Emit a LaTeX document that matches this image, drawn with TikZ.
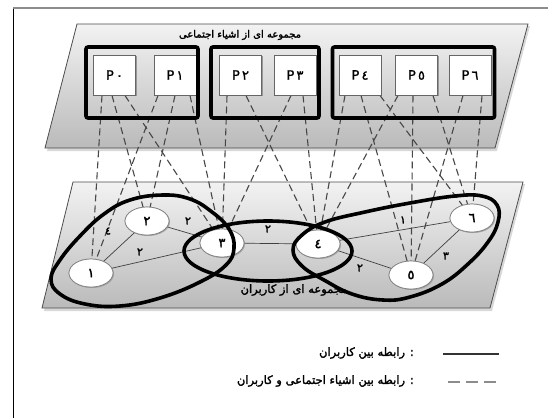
\documentclass[tikz,border=0pt]{standalone}
\usepackage{fontspec}
\usetikzlibrary{shapes.geometric,shadows}
\TeXXeTstate=1
\newfontfamily\farsi[Script=Arabic]{DejaVu Sans}
\newfontfamily\farsib[Script=Arabic,FakeBold=2]{DejaVu Sans}
\newfontfamily\latinsans[FakeBold=1]{DejaVu Sans}

\begin{document}
\begin{tikzpicture}[x=1pt,y=-1pt,
  plane/.style={draw=black!70, line width=0.8pt, top color=black!5, bottom color=black!27},
  planeshadow/.style={fill=black!30, opacity=0.5},
  objbox/.style={draw=black!60, fill=white, line width=1pt, minimum width=42pt,
    minimum height=40pt, inner sep=0pt, font=\latinsans\fontsize{13}{13}\selectfont,
    drop shadow={shadow xshift=1.2pt, shadow yshift=-1.2pt, fill=black!45, opacity=0.6}},
  groupbox/.style={draw=black, line width=3.6pt, rounded corners=2pt, inner sep=0pt},
  user/.style={ellipse, draw=black!50, fill=white, line width=0.7pt, minimum width=44pt,
    minimum height=28pt, inner sep=0pt, font=\farsib\fontsize{13}{13}\selectfont,
    drop shadow={shadow xshift=1pt, shadow yshift=-1pt, fill=black!40, opacity=0.5}},
  tie/.style={draw=black!75, line width=0.7pt},
  link/.style={draw=black!72, line width=1.1pt, dash pattern=on 7pt off 4pt},
  cluster/.style={draw=black, line width=3.6pt},
  elab/.style={font=\farsib\fontsize{11}{11}\selectfont, inner sep=0pt},
  title/.style={font=\farsib\fontsize{10}{10}\selectfont, inner sep=0pt},
  legtext/.style={font=\farsib\fontsize{11.5}{11.5}\selectfont, inner sep=0pt, anchor=east},
]
\useasboundingbox (0,0) rectangle (548,418);
\fill[white] (0,0) rectangle (548,418);

% page frame
\draw[black!45, line width=2.6pt] (13,8) -- (548,8);
\draw[black, line width=0.8pt] (13,8.5) -- (13,418);

% the two planes
\fill[planeshadow] (79,26) -- (530,26) -- (497,151) -- (47,151) -- cycle;
\path[plane] (77,24) -- (528,24) -- (495,148) -- (45,148) -- cycle;
\fill[planeshadow] (75,184) -- (525,184) -- (492,311) -- (44,311) -- cycle;
\path[plane] (73,182) -- (523,182) -- (490,308) -- (42,308) -- cycle;

\node[title] (ttop) at (240,35) {\beginR مجموعه ای از اشیاء اجتماعی\endR};
\node[title, font=\farsib\fontsize{11.5}{11.5}\selectfont] (tbot) at (294,290) {\beginR مجموعه ای از کاربران\endR};

% social objects
\node[objbox] (P0) at (114.5,75) {P\,٠};
\node[objbox] (P1) at (175,75) {P\,١};
\node[objbox] (P2) at (240.5,75) {P\,٢};
\node[objbox] (P3) at (295,75) {P\,٣};
\node[objbox] (P4) at (360,75) {P\,٤};
\node[objbox] (P5) at (416.5,75) {P\,٥};
\node[objbox] (P6) at (470,75) {P\,٦};

% users
\node[user] (n1) at (91,273) {١};
\node[user] (n2) at (147,221) {٢};
\node[user] (n3) at (222,243) {٣};
\node[user] (n4) at (318,244) {٤};
\node[user] (n5) at (411,275) {٥};
\node[user] (n6) at (472,218) {٦};

% object-user relations
\draw[link] ([xshift=-12.5pt]P0.south) -- (n1);
\draw[link] ([xshift=-2.5pt]P0.south) -- (n2);
\draw[link] ([xshift=10.5pt]P0.south) -- (n3);
\draw[link] ([xshift=-17pt]P1.south) -- (n1);
\draw[link] ([xshift=0pt]P1.south) -- (n2);
\draw[link] ([xshift=15pt]P1.south) -- (n3);
\draw[link] ([xshift=-13.5pt]P2.south) -- (n3);
\draw[link] ([xshift=5.5pt]P2.south) -- (n4);
\draw[link] ([xshift=-4pt]P3.south) -- (n3);
\draw[link] ([xshift=8pt]P3.south) -- (n4);
\draw[link] ([xshift=-15pt]P4.south) -- (n4);
\draw[link] ([xshift=1pt]P4.south) -- (n5);
\draw[link] ([xshift=20pt]P4.south) -- (n6);
\draw[link] ([xshift=-18.5pt]P5.south) -- (n4);
\draw[link] ([xshift=-3.5pt]P5.south) -- (n5);
\draw[link] ([xshift=16.5pt]P5.south) -- (n6);
\draw[link] ([xshift=-7pt]P6.south) -- (n5);
\draw[link] ([xshift=12pt]P6.south) -- (n6);

% boxes again, on top of the relation lines
\node[objbox] at (P0) {P\,٠};
\node[objbox] at (P1) {P\,١};
\node[objbox] at (P2) {P\,٢};
\node[objbox] at (P3) {P\,٣};
\node[objbox] at (P4) {P\,٤};
\node[objbox] at (P5) {P\,٥};
\node[objbox] at (P6) {P\,٦};

% groups of objects
\node[groupbox, minimum width=112pt, minimum height=71pt] (g1) at (142,82.5) {};
\node[groupbox, minimum width=108pt, minimum height=71pt] (g2) at (265,82.5) {};
\node[groupbox, minimum width=162pt, minimum height=71pt] (g3) at (413.5,82.5) {};

% user-user relations
\draw[tie] (n1) -- (n2);
\draw[tie] (n2) -- (n3);
\draw[tie] (n1) -- (n3);
\draw[tie] (n3) -- (n4);
\draw[tie] (n4) -- (n6);
\draw[tie] (n4) -- (n5);
\draw[tie] (n5) -- (n6);

\node[user] at (n1) {١};
\node[user] at (n2) {٢};
\node[user] at (n3) {٣};
\node[user] at (n4) {٤};
\node[user] at (n5) {٥};
\node[user] at (n6) {٦};

\node[elab] (w12) at (108,231) {٤};
\node[elab] (w23) at (188,221) {٢};
\node[elab] (w13) at (140,252) {٢};
\node[elab] (w34) at (268,229) {٢};
\node[elab] (w46) at (403,220) {١};
\node[elab] (w45) at (360,268) {٢};
\node[elab] (w56) at (446,256) {٣};

% communities of users
\draw[cluster] plot[smooth cycle, tension=0.7] coordinates {
  (130,200) (163,195) (190,199) (212,212) (229,229) (234,248) (226,265)
  (200,282) (160,298) (120,306) (85,304) (60,294) (51,279) (60,260)
  (80,236) (104,214)};
\draw[cluster] (268,251) ellipse [x radius=84, y radius=30];
\draw[cluster] plot[smooth cycle, tension=0.7] coordinates {
  (293,250) (302,235) (325,222) (365,212) (410,203) (455,196) (482,196)
  (497,205) (498,222) (488,242) (468,264) (442,284) (410,297) (383,300)
  (352,294) (324,280) (302,266)};

% legend
\coordinate (s1) at (443,354);
\coordinate (s2) at (499,354);
\coordinate (d1) at (448,382);
\coordinate (d2) at (501,382);
\draw[black!80, line width=1.2pt] (s1) -- (s2);
\draw[black!45, line width=1.6pt, dash pattern=on 12pt off 6pt] (d1) -- (d2);
\node[legtext] (lg1) at (414,353) {\beginR : رابطه بین کاربران\endR};
\node[legtext] (lg2) at (414,381) {\beginR : رابطه بین اشیاء اجتماعی و کاربران\endR};
\end{tikzpicture}
\end{document}
